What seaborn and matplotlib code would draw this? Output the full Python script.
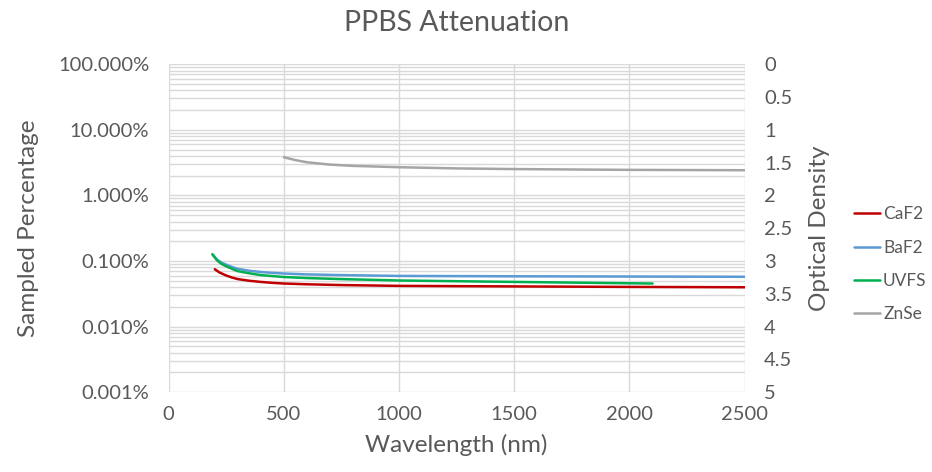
import numpy as np
import pandas as pd
import seaborn as sns
import matplotlib.pyplot as plt
from matplotlib.ticker import FuncFormatter, LogLocator, MultipleLocator

caf2_wl = [200, 220, 250, 275, 300, 350, 400, 450, 500, 600, 750, 1000, 1500, 2000, 2500]
caf2_pct = [0.075, 0.067, 0.060, 0.056, 0.053, 0.050, 0.048, 0.0465, 0.0454, 0.0442,
            0.043, 0.0418, 0.041, 0.0403, 0.0398]

baf2_wl = [190, 210, 230, 250, 275, 300, 350, 400, 450, 500, 600, 750, 1000, 1500, 2000, 2500]
baf2_pct = [0.125, 0.105, 0.094, 0.088, 0.081, 0.076, 0.071, 0.068, 0.066, 0.0645, 0.0625,
            0.061, 0.0593, 0.0585, 0.058, 0.0575]

uvfs_wl = [190, 210, 230, 250, 275, 300, 350, 400, 450, 500, 600, 750, 1000, 1500, 2000, 2100]
uvfs_pct = [0.127, 0.102, 0.090, 0.083, 0.076, 0.070, 0.065, 0.061, 0.059, 0.057, 0.055,
            0.053, 0.0505, 0.048, 0.0458, 0.0454]

znse_wl = [500, 550, 600, 700, 800, 1000, 1250, 1500, 2000, 2500]
znse_pct = [3.82, 3.45, 3.2, 2.95, 2.82, 2.69, 2.58, 2.52, 2.45, 2.42]

series = ["CaF2", "BaF2", "UVFS", "ZnSe"]
colors = ["#C00000", "#5B9BD5", "#00B050", "#A5A5A5"]

df = pd.concat([
    pd.DataFrame({"wl": caf2_wl, "pct": caf2_pct, "material": "CaF2"}),
    pd.DataFrame({"wl": baf2_wl, "pct": baf2_pct, "material": "BaF2"}),
    pd.DataFrame({"wl": uvfs_wl, "pct": uvfs_pct, "material": "UVFS"}),
    pd.DataFrame({"wl": znse_wl, "pct": znse_pct, "material": "ZnSe"}),
])

sns.set_style("white")
plt.rcParams["font.family"] = ["Lato", "DejaVu Sans"]
text_col = "#595959"
grid_col = "#D9D9D9"

fig = plt.figure(figsize=(9.32, 4.72), dpi=100)
ax = fig.add_axes([0.181, 0.169, 0.618, 0.695])

sns.lineplot(data=df, x="wl", y="pct", hue="material", hue_order=series,
             palette=colors, linewidth=1.8, ax=ax, legend=True)

ax.set_yscale("log")
ax.set_ylim(0.001, 100)
ax.set_xlim(0, 2500)
ax.xaxis.set_major_locator(MultipleLocator(500))
ax.yaxis.set_major_locator(LogLocator(base=10, numticks=10))
ax.yaxis.set_minor_locator(LogLocator(base=10, subs=np.arange(2, 10), numticks=20))
ax.yaxis.set_major_formatter(FuncFormatter(lambda v, p: f"{v:.3f}%"))
ax.yaxis.set_minor_formatter(FuncFormatter(lambda v, p: ""))
ax.grid(True, which="major", color=grid_col, linewidth=1)
ax.grid(True, which="minor", axis="y", color=grid_col, linewidth=1)
ax.set_axisbelow(True)
for s in ax.spines.values():
    s.set_visible(False)
ax.tick_params(which="both", length=0, labelsize=14.5, colors=text_col, pad=14)
ax.tick_params(axis="x", pad=10)

ax.set_xlabel("Wavelength (nm)", fontsize=17.5, color=text_col, labelpad=8)
ax.set_ylabel("Sampled Percentage", fontsize=17.5, color=text_col, labelpad=14)
ax.set_title("PPBS Attenuation", fontsize=20.5, color=text_col, pad=24)

# Eje derecho: densidad óptica
ax2 = ax.twinx()
ax2.set_ylim(5, 0)
ax2.yaxis.set_major_locator(MultipleLocator(0.5))
ax2.yaxis.set_major_formatter(FuncFormatter(lambda v, p: f"{v:g}"))
for s in ax2.spines.values():
    s.set_visible(False)
ax2.tick_params(length=0, labelsize=14.5, colors=text_col, pad=14)
ax2.set_ylabel("Optical Density", fontsize=17.5, color=text_col, labelpad=12)

handles, labels = ax.get_legend_handles_labels()
ax.legend(handles, labels, loc="center left", bbox_to_anchor=(1.162, 0.39),
          frameon=False, fontsize=12.5, labelcolor=text_col, handlelength=1.5,
          handletextpad=0.2, labelspacing=1.0)

plt.savefig("out.png", dpi=100)
